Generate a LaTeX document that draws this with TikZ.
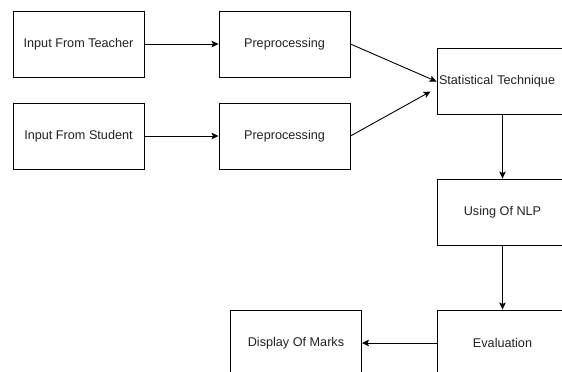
\documentclass[tikz,border=0pt]{standalone}
\usepackage{fontspec}
\setmainfont{Liberation Sans}
\usepackage{xcolor}
\usetikzlibrary{arrows.meta, positioning}
\definecolor{FlowBlack}{HTML}{000000}
\definecolor{FlowText}{HTML}{222222}
\definecolor{FlowWhite}{HTML}{FFFFFF}
\tikzset{
    stepbox/.style={
        draw=FlowBlack,
        fill=FlowWhite,
        line width=0.9bp,
        minimum width=131bp,
        minimum height=66bp,
        inner sep=2bp,
        text=FlowText,
        font=\fontsize{12.7}{15}\selectfont,
        align=center
    },
    arrow/.style={
        -{Stealth[length=7bp, width=6.5bp, inset=1.5bp]},
        line width=0.9bp,
        FlowBlack
    }
}
\begin{document}
\begin{tikzpicture}[x=1bp, y=-1bp]
        \useasboundingbox (0,0) rectangle (562,371);

        % Inputs
        \node[stepbox] (teacher) at (78.5,44) {Input From Teacher};
        \node[stepbox] (student) at (78.5,136) {Input From Student};

        % Preprocessing
        \node[stepbox] (prepA) at (284.5,44) {Preprocessing};
        \node[stepbox] (prepB) at (284.5,136) {Preprocessing};

        % Main pipeline
        \node[stepbox, text width=127bp, align=left] (stat) at (502.5,81.5) {Statistical Technique};
        \node[stepbox] (nlp) at (502.5,212) {Using Of NLP};
        \node[stepbox] (eval) at (502.5,343) {Evaluation};
        \node[stepbox] (marks) at (296,343) {Display Of Marks};

        % Connectors
        \draw[arrow] (teacher) -- (prepA);
        \draw[arrow] (student) -- (prepB);
        \draw[arrow] (prepA.east) -- (stat.west);
        \draw[arrow] (prepB.east) -- ([xshift=-6bp, yshift=-10bp]stat.west);
        \draw[arrow] (stat) -- (nlp);
        \draw[arrow] (nlp) -- (eval);
        \draw[arrow] (eval) -- (marks);
    \end{tikzpicture}
\end{document}
